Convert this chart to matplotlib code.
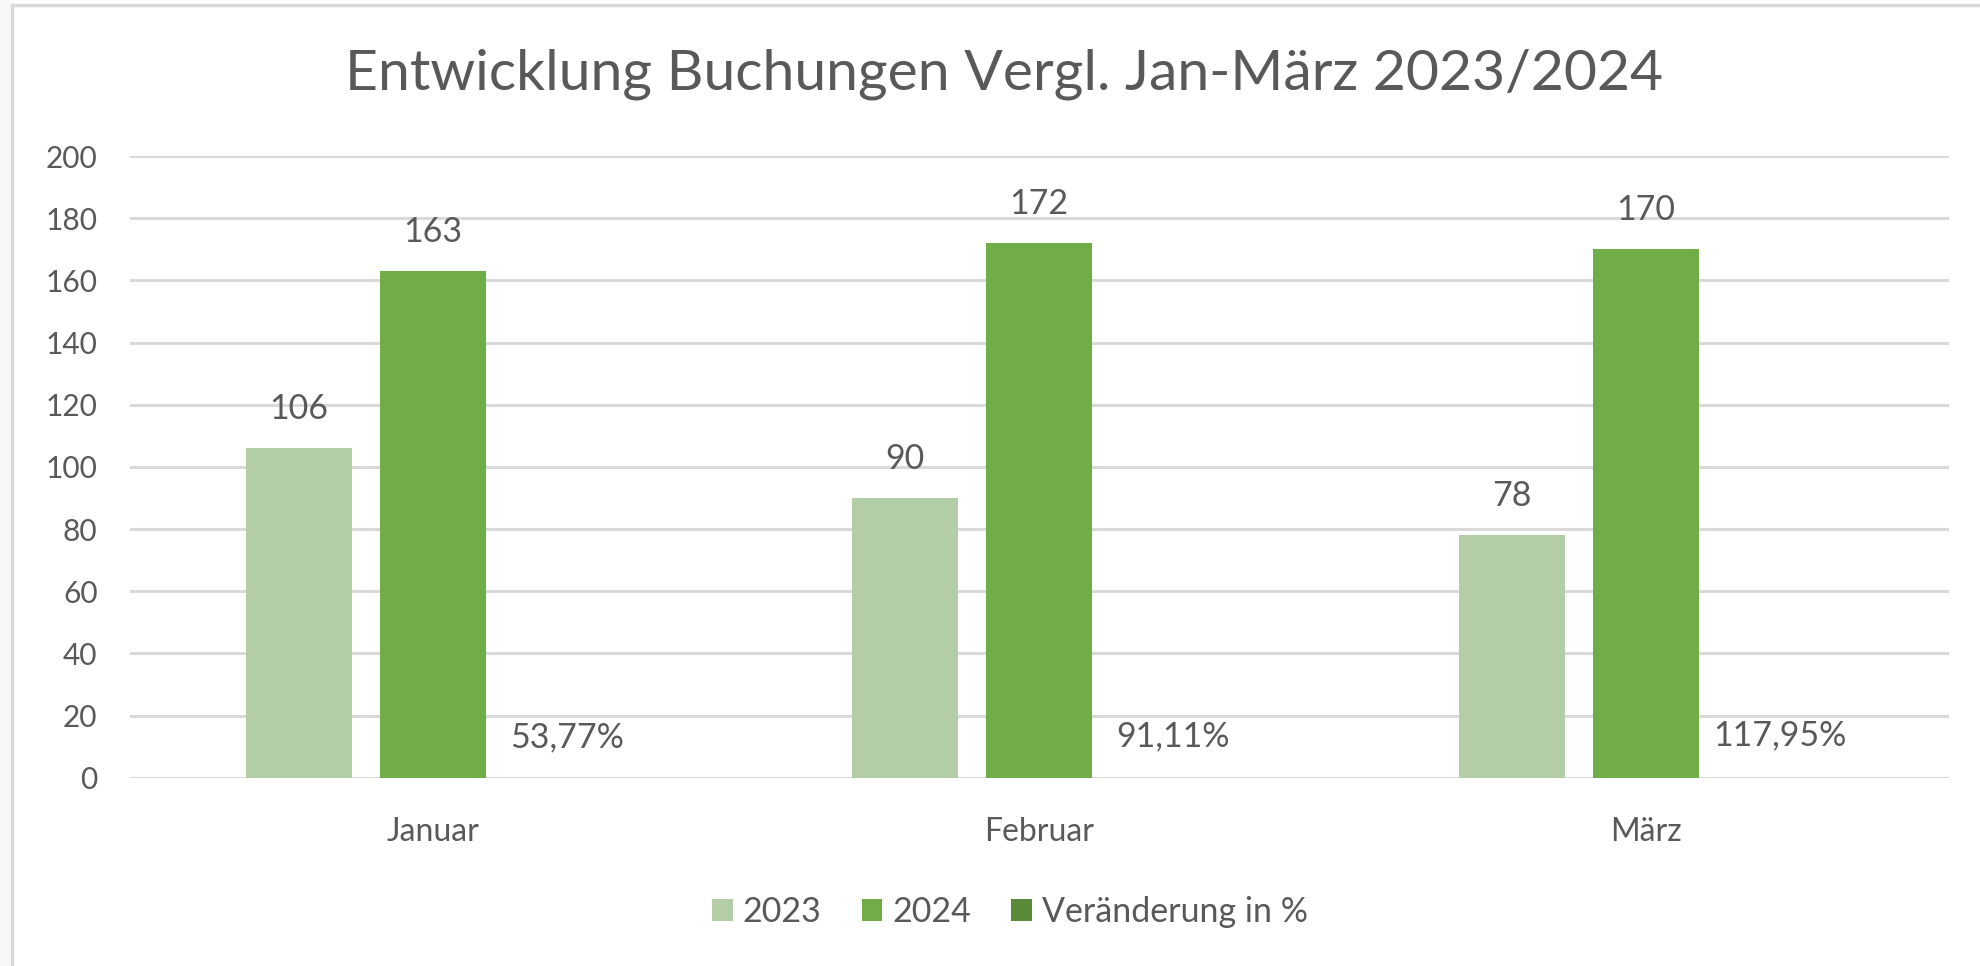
import matplotlib
matplotlib.use("Agg")
import matplotlib.pyplot as plt
from matplotlib.patches import Patch, Rectangle
from matplotlib.lines import Line2D
import numpy as np

# ---- data ----
categories = ["Januar", "Februar", "März"]
series_names = ["2023", "2024", "Veränderung in %"]
values_2023 = [106, 90, 78]
values_2024 = [163, 172, 170]
change_pct = [0.5377, 0.9111, 1.1795]   # fraction (shown as percent)
y_ticks = [0, 20, 40, 60, 80, 100, 120, 140, 160, 180, 200]
title = "Entwicklung Buchungen Vergl. Jan-März 2023/2024"

colors = ["#B3CDA6", "#70AD47", "#5A8B3A"]
text_color = "#595959"
grid_color = "#D9D9D9"

plt.rcParams['font.family'] = ['Lato', 'DejaVu Sans']

W, H = 1980, 966
fig = plt.figure(figsize=(W / 100, H / 100), dpi=100)
fig.patch.set_facecolor("white")

# frame lines (chart border)
fig.add_artist(Rectangle((0, 0), 10 / W, 1, transform=fig.transFigure,
                         facecolor="#F7F7F7", edgecolor="none"))
fig.add_artist(Line2D([12 / W, 12 / W], [0, 1 - 4.5 / H], transform=fig.transFigure,
                      color=grid_color, lw=2.4))
fig.add_artist(Line2D([12 / W, 1], [1 - 4.5 / H, 1 - 4.5 / H], transform=fig.transFigure,
                      color=grid_color, lw=2.4))

ax_left, ax_right = 129.5 / W, 1949 / W
ax_top, ax_bot = 1 - 156 / H, 1 - 777.7 / H
ax = fig.add_axes([ax_left, ax_bot, ax_right - ax_left, ax_top - ax_bot])

x = np.arange(len(categories))
bw = 0.1748
off = 0.221
label_size = 24.5

series_vals = [values_2023, values_2024, change_pct]
for i, (vals, c) in enumerate(zip(series_vals, colors)):
    pos = x + (i - 1) * off
    # the percent series is on a tiny scale; its bars are not visible in the original
    ax.bar(pos, vals, width=bw, color=c, zorder=3, alpha=(1.0 if i < 2 else 0.0))
    for px, v in zip(pos, vals):
        if i < 2:
            lab = f"{v}"
        else:
            lab = f"{v * 100:.2f}%".replace(".", ",")
        ax.annotate(lab, (px, v), xytext=(0, 28), textcoords="offset points",
                    ha="center", va="center", fontsize=label_size, color=text_color)

ax.set_xlim(-0.5, 2.5)
ax.set_ylim(0, 200)
ax.set_yticks(y_ticks)
ax.set_xticks(x)
ax.set_xticklabels(categories)
ax.yaxis.grid(True, color=grid_color, lw=2.2, zorder=0)
ax.set_axisbelow(True)
for s in ax.spines.values():
    s.set_visible(False)
ax.tick_params(axis="both", length=0, labelsize=21.5, labelcolor=text_color)
ax.tick_params(axis="y", pad=23)
ax.tick_params(axis="x", pad=28.5, labelsize=23)

fig.text(1004 / W, 1 - 90 / H, title, ha="center", va="baseline",
         fontsize=41, color=text_color)

handles = [Patch(facecolor=c, edgecolor="none") for c in colors]
leg = fig.legend(handles, series_names, loc="center", ncol=3,
                 bbox_to_anchor=(1010 / W, 1 - 912 / H), frameon=False,
                 fontsize=label_size, handlelength=0.61, handleheight=0.61,
                 handletextpad=0.29, columnspacing=1.18, labelcolor=text_color)

fig.savefig("out.png", dpi=100)
